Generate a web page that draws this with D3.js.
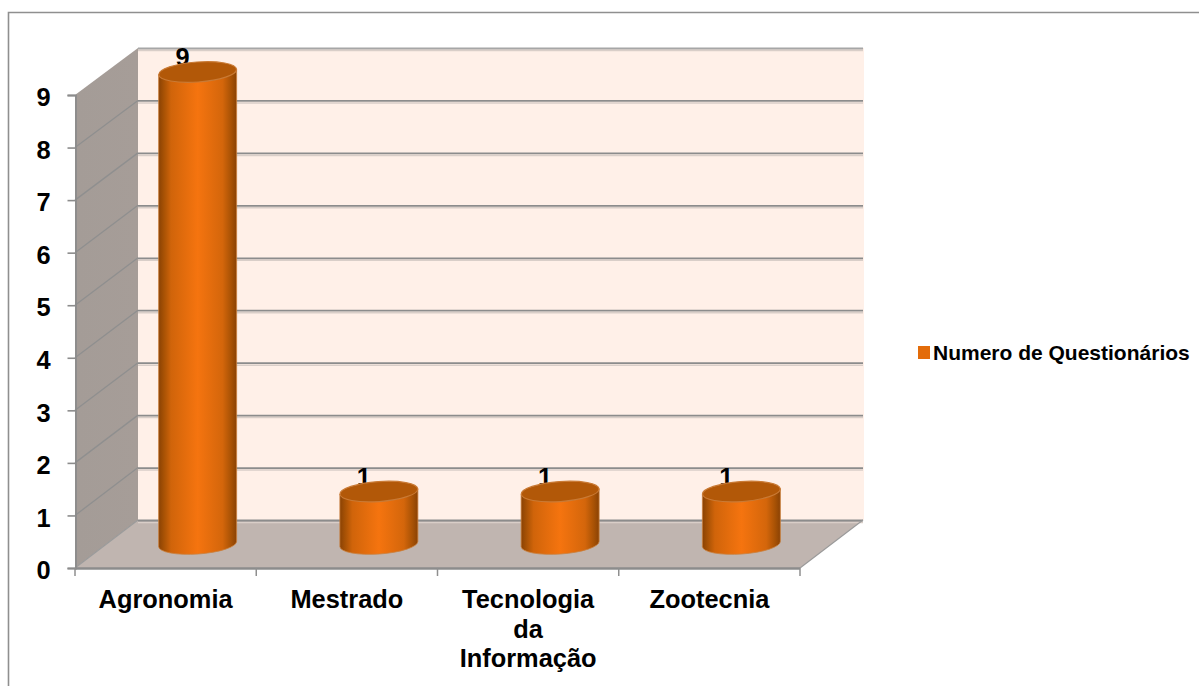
<!DOCTYPE html>
<html lang="pt">
<head>
<meta charset="utf-8">
<title>Numero de Questionários</title>
<script src="https://cdn.jsdelivr.net/npm/d3@7/dist/d3.min.js"></script>
<style>
  html, body { margin: 0; padding: 0; background: #fff; }
  svg { display: block; }
  text { font-family: "Liberation Sans", Arial, sans-serif; font-weight: bold; fill: #000; }
</style>
</head>
<body>
<svg id="chart" width="1199" height="686"></svg>
<script>
// Chart data
const categories = ["Agronomia", "Mestrado", "Tecnologia da Informação", "Zootecnia"];
const categoryLines = [["Agronomia"], ["Mestrado"], ["Tecnologia", "da", "Informação"], ["Zootecnia"]];
const questionnaires = [9, 1, 1, 1];
const yTicks = [0, 1, 2, 3, 4, 5, 6, 7, 8, 9];
const seriesName = "Numero de Questionários";

const svg = d3.select("#chart");
const defs = svg.append("defs");

// Oblique box: front plane, back plane, and a mid plane where the cylinders stand
const depthX = 63, depthY = 48;
const frontLeft = 75, frontRight = 800, frontBase = 568, frontTop = 95;
const labelSize = 25.4;

const xFront = d3.scaleBand().domain(categories).range([frontLeft, frontRight]);
const xMid = d3.scaleBand().domain(categories).range([frontLeft + 32, frontRight + 32]);
const yFront = d3.scaleLinear().domain([0, 9]).range([frontBase, frontTop]);
const yBack = d3.scaleLinear().domain([0, 9]).range([frontBase - depthY, frontTop - depthY + 1]);
const yBar = d3.scaleLinear().domain([0, 9]).range([544, 72]);

const gridColor = "#8c8c8c";

// Gradients
const wallGrad = defs.append("linearGradient").attr("id", "sideWall")
  .attr("x1", 0).attr("x2", 1).attr("y1", 0).attr("y2", 0);
wallGrad.append("stop").attr("offset", 0).attr("stop-color", "#a49c97");
wallGrad.append("stop").attr("offset", 1).attr("stop-color", "#a69d98");

const barGrad = defs.append("linearGradient").attr("id", "cylinderBody")
  .attr("x1", 0).attr("x2", 1).attr("y1", 0).attr("y2", 0);
[[0, "#8a4204"], [0.07, "#a85205"], [0.16, "#d0640a"], [0.5, "#f5740f"],
 [0.82, "#d4660b"], [0.93, "#a85205"], [1, "#8a4204"]].forEach(([o, c]) => {
  barGrad.append("stop").attr("offset", o).attr("stop-color", c);
});

// Outer frame of the chart area
svg.append("path")
  .attr("d", "M8.5,686V12.5H1199")
  .attr("fill", "none").attr("stroke", "#8f8f8f").attr("stroke-width", 1.6);

// Back wall, side wall and floor
svg.append("rect")
  .attr("x", frontLeft + depthX).attr("y", yBack(9))
  .attr("width", frontRight - frontLeft + 1)
  .attr("height", yBack(0) - yBack(9))
  .attr("fill", "#fff0e8");
svg.append("polygon")
  .attr("points", [[frontLeft, yFront(9)], [frontLeft + depthX, yBack(9)], [frontLeft + depthX, yBack(0)], [frontLeft, yFront(0)]].join(" "))
  .attr("fill", "url(#sideWall)");
svg.append("polygon")
  .attr("points", [[frontLeft, yFront(0)], [frontLeft + depthX, yBack(0)], [frontRight + depthX, yBack(0)], [frontRight, yFront(0)]].join(" "))
  .attr("fill", "#c0b5b0");

// Gridlines along the back wall, each with a faint shadow beneath it
const backRight = frontRight + depthX;
svg.append("g").selectAll("line").data(yTicks).join("line")
  .attr("x1", frontLeft + depthX).attr("x2", backRight)
  .attr("y1", d => yBack(d) + 2.5).attr("y2", d => yBack(d) + 2.5)
  .attr("stroke", "#d9cec8").attr("stroke-width", 1.5);
svg.append("g").selectAll("line").data(yTicks).join("line")
  .attr("x1", frontLeft + depthX).attr("x2", backRight)
  .attr("y1", d => yBack(d) + 0.5).attr("y2", d => yBack(d) + 0.5)
  .attr("stroke", d => d === 9 ? "#a6a6a6" : gridColor).attr("stroke-width", 1.8);

// Gridlines running across the side wall
svg.append("g").selectAll("line").data(yTicks.slice(1, -1)).join("line")
  .attr("x1", frontLeft).attr("y1", d => yFront(d))
  .attr("x2", frontLeft + depthX).attr("y2", d => yBack(d))
  .attr("stroke", "#8f8f8f").attr("stroke-width", 1.3);

// Floor edges
svg.append("line")
  .attr("x1", frontLeft).attr("y1", yFront(0)).attr("x2", frontLeft + depthX).attr("y2", yBack(0))
  .attr("stroke", "#9a9a9a").attr("stroke-width", 1.2);
svg.append("line")
  .attr("x1", frontRight).attr("y1", yFront(0)).attr("x2", backRight).attr("y2", yBack(0))
  .attr("stroke", "#9a9a9a").attr("stroke-width", 1.2);

// Value axis
const yAxis = svg.append("g")
  .attr("transform", `translate(${frontLeft + 0.5},0)`)
  .call(d3.axisLeft(yFront).tickValues(yTicks).tickSize(8).tickPadding(17).tickFormat(d3.format("d")));
yAxis.select(".domain").attr("stroke", gridColor).attr("stroke-width", 1.8);
yAxis.selectAll(".tick line").attr("stroke", gridColor).attr("stroke-width", 1.6);
yAxis.selectAll("text").attr("font-size", labelSize).attr("fill", "#000").attr("dy", "0.42em");
yAxis.attr("font-family", null).attr("font-size", null);

// Category axis: the baseline, then ticks on the band edges
svg.append("line")
  .attr("x1", frontLeft).attr("x2", frontRight)
  .attr("y1", yFront(0) + 0.5).attr("y2", yFront(0) + 0.5)
  .attr("stroke", gridColor).attr("stroke-width", 2.4);
const edges = categories.map(c => xFront(c)).concat(frontRight);
svg.append("g").selectAll("line").data(edges).join("line")
  .attr("x1", d => d).attr("x2", d => d)
  .attr("y1", yFront(0)).attr("y2", yFront(0) + 8)
  .attr("stroke", "#8f8f8f").attr("stroke-width", 1.5);

svg.append("g").selectAll("text").data(categories).join("text")
  .attr("text-anchor", "middle")
  .attr("font-size", labelSize)
  .each(function (c, i) {
    const cx = xFront(c) + xFront.bandwidth() / 2;
    d3.select(this).selectAll("tspan").data(categoryLines[i]).join("tspan")
      .attr("x", cx)
      .attr("y", (d, j) => 608 + j * 29.5)
      .text(d => d);
  });

// Value labels sit behind the cylinders, so they are drawn first
svg.append("g").selectAll("text").data(categories).join("text")
  .attr("text-anchor", "middle")
  .attr("font-size", labelSize)
  .attr("x", c => xMid(c) + xMid.bandwidth() / 2 - 15)
  .attr("y", (c, i) => yBar(questionnaires[i]) - 6)
  .text((c, i) => questionnaires[i]);

// Cylinders: the end caps lean slightly, rising towards the right
const radiusX = 39, radiusY = 10, tilt = -4;
const lean = radiusX * Math.sin(-tilt * Math.PI / 180);
const cylinders = svg.append("g").selectAll("g").data(categories).join("g")
  .attr("transform", c => `translate(${xMid(c) + xMid.bandwidth() / 2},0)`);

cylinders.append("path")
  .attr("d", (c, i) => {
    const top = yBar(questionnaires[i]), base = yBar(0);
    return `M${-radiusX},${top + lean}V${base + lean}` +
           `A${radiusX},${radiusY} ${tilt} 0 0 ${radiusX},${base - lean}` +
           `V${top - lean}Z`;
  })
  .attr("fill", "url(#cylinderBody)")
  .attr("stroke", "#c9803f").attr("stroke-width", 0.8);

cylinders.append("ellipse")
  .attr("rx", radiusX).attr("ry", radiusY)
  .attr("transform", (c, i) => `translate(0,${yBar(questionnaires[i])}) rotate(${tilt})`)
  .attr("fill", "#b25808")
  .attr("stroke", "#c97a35").attr("stroke-width", 1.2);

// Legend
svg.append("rect")
  .attr("x", 918).attr("y", 346).attr("width", 12).attr("height", 13)
  .attr("fill", "#e36c0a");
svg.append("text")
  .attr("x", 933).attr("y", 360)
  .attr("font-size", 21)
  .text(seriesName);
</script>
</body>
</html>
